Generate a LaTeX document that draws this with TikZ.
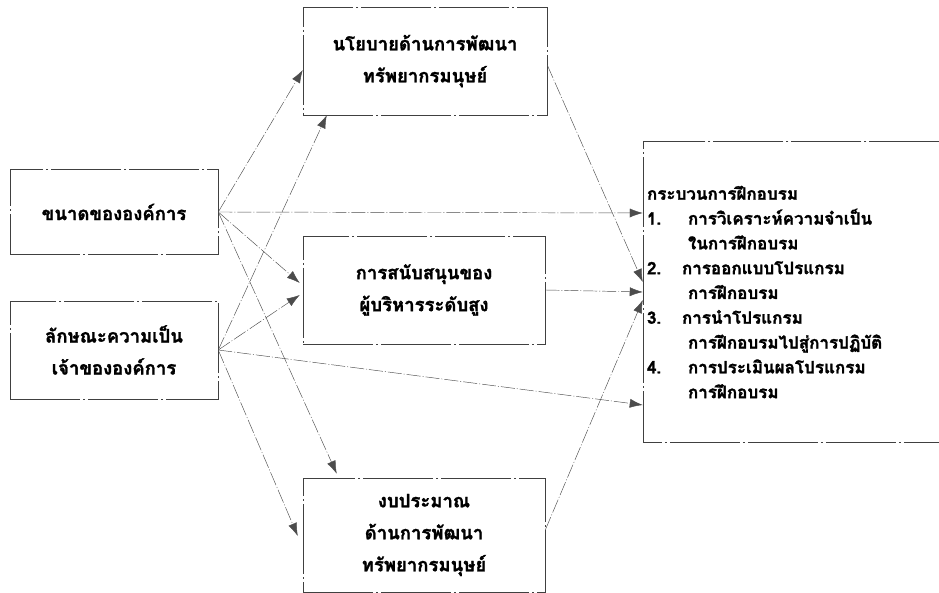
\documentclass[tikz,border=0pt]{standalone}
\usepackage{fontspec}
\newfontfamily\thaifont[Script=Thai, BoldFeatures={FakeBold=1.6}]{Loma}
\usetikzlibrary{arrows.meta}
\newcommand\numbox[2][41pt]{\makebox[#1][l]{#2}}

\begin{document}
\begin{tikzpicture}[x=1pt, y=-1pt, >={Latex[length=13pt,width=9pt]},
  frame/.style={draw=black!75, line width=0.5pt,
    dash pattern=on 70pt off 3pt on 2pt off 3pt},
  box/.style={frame, align=center, inner sep=0pt,
    font=\thaifont\bfseries\fontsize{18.5}{32}\selectfont},
  link/.style={->, draw=black!70, line width=0.45pt,
    dash pattern=on 14pt off 2pt on 1pt off 2pt}]

\useasboundingbox (0,0) rectangle (939,593);

% ตัวแปรต้น
\node [box, minimum width=208pt, minimum height=85pt] (cause-1) at (114,212) {ขนาดขององค์การ};
\node [box, minimum width=208pt, minimum height=98pt] (cause-2) at (114,350) {ลักษณะความเป็น\\เจ้าขององค์การ};

% ตัวแปรคั่นกลาง
\node [box, minimum width=244pt, minimum height=108pt] (factor-1) at (425,61) {นโยบายด้านการพัฒนา\\ทรัพยากรมนุษย์};
\node [box, minimum width=242pt, minimum height=108pt] (factor-2) at (424,290) {การสนับสนุนของ\\ผู้บริหารระดับสูง};
\node [box, minimum width=242pt, minimum height=114pt] (factor-3) at (424,535) {งบประมาณ\\ด้านการพัฒนา\\ทรัพยากรมนุษย์};

% ตัวแปรตาม (ขอบขวาเลยขอบภาพ)
\node [box, draw=none, align=left, text width=288pt, inner xsep=4pt, minimum height=300pt,
  font=\thaifont\bfseries\fontsize{17}{24.8}\selectfont] (process) at (791,292) {%
  กระบวนการฝึกอบรม\\
  \numbox{1.}การวิเคราะห์ความจำเป็น\\
  \numbox{}ในการฝึกอบรม\\
  \numbox[35pt]{2.}การออกแบบโปรแกรม\\
  \numbox{}การฝึกอบรม\\
  \numbox[35pt]{3.}การนำโปรแกรม\\
  \numbox{}การฝึกอบรมไปสู่การปฏิบัติ\\
  \numbox{4.}การประเมินผลโปรแกรม\\
  \numbox{}การฝึกอบรม};
\draw [frame] (process.north east) -- (process.north west)
  -- (process.south west) -- (process.south east);

\foreach \n/\a/\dx/\dy in {factor-1/west/0pt/-9pt, factor-2/west/-3pt/7pt,
    factor-3/north west/34pt/4pt, process/west/0pt/79pt}
  \draw [link] (cause-1.east) -- ([xshift=\dx,yshift=\dy]\n.\a);

\foreach \n/\a/\dx/\dy in {factor-1/south west/24pt/0pt, factor-2/west/-3pt/-5pt,
    factor-3/west/-5pt/-1pt, process/west/0pt/-113pt}
  \draw [link] (cause-2.east) -- ([xshift=\dx,yshift=\dy]\n.\a);

\foreach \i/\s/\e in {1/-4pt/10pt, 2/0pt/0pt, 3/5pt/-8pt}
  \draw [link] ([yshift=\s]factor-\i.east) -- ([yshift=\e]process.west);

\end{tikzpicture}
\end{document}
